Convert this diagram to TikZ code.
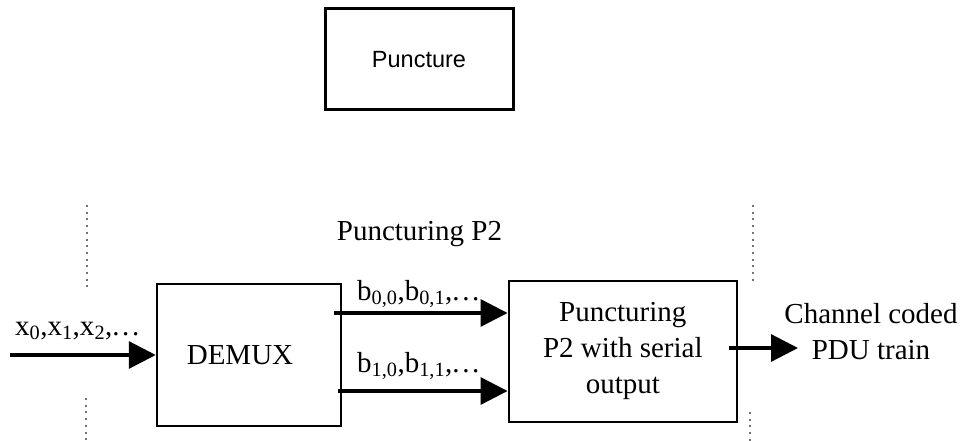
\documentclass[tikz,border=0pt]{standalone}
\usepackage{fontspec}
\setmainfont{Liberation Serif}
\newfontfamily\labelsans{Liberation Sans}
\usetikzlibrary{arrows.meta,calc}

% spaced ellipsis used in the sequence labels
\newcommand\seqdots{.\kern2.6pt.\kern2.6pt.}

\begin{document}
\begin{tikzpicture}[x=1pt,y=-1pt,
  serif/.style={font=\fontsize{29}{36}\selectfont, inner sep=0pt},
  block/.style={draw, line width=2.5pt, inner sep=0pt},
  flow/.style={line width=3.2pt, -{Triangle[length=27pt,width=27pt]}},
  guide/.style={draw=black!55, line width=2pt, dash pattern=on 2pt off 4.7pt},
]
\useasboundingbox (0,0) rectangle (963,441);

% legend box
\node[draw, line width=3pt, minimum width=188pt, minimum height=101pt,
      font=\labelsans\fontsize{23.5}{28}\selectfont] (legend) at (419,59.5) {Puncture};

% main blocks
\node[block, minimum width=184pt, minimum height=142pt,
      label={[serif, xshift=-9pt]center:DEMUX}] (demux) at (249,355) {};
\node[block, serif, align=center, minimum width=228pt, minimum height=141pt]
      (punc) at (622.8,351.3) {Puncturing\\P2 with serial\\output};

% section heading
\node[serif, anchor=base] (head) at (419.5,240) {Puncturing P2};

% dotted section boundaries
\draw[guide] (86.5,205) -- (86.5,291);
\draw[guide] (753,205) -- (753,283);
\draw[guide] (86,398) -- (86,441);
\draw[guide] (750,412) -- (750,441);

% input and output ends
\coordinate (src) at (10,355);
\coordinate (sink) at (798,348);

% labels
\node[serif, anchor=base west] (xlab) at (15,335)
  {x\textsubscript{0},x\textsubscript{1},x\textsubscript{2},\seqdots};
\node[serif, anchor=base west] (b0lab) at (357,300)
  {b\textsubscript{0,0},b\textsubscript{0,1},\seqdots};
\node[serif, anchor=base west] (b1lab) at (357,372)
  {b\textsubscript{1,0},b\textsubscript{1,1},\seqdots};
\node[serif, align=center] (outlab) at (871,331.6) {Channel coded\\PDU train};

% connectors
\draw[flow] (src) -- (demux.west);
\draw[flow] ($(demux.east)+(-8,-42)$) -- (punc.west |- {$(demux.east)+(0,-42)$});
\draw[flow] ($(demux.east)+(-4,36)$) -- (punc.west |- {$(demux.east)+(0,36)$});
\draw[flow] ($(punc.east)+(-9,-3.3)$) -- (sink);
\end{tikzpicture}
\end{document}
